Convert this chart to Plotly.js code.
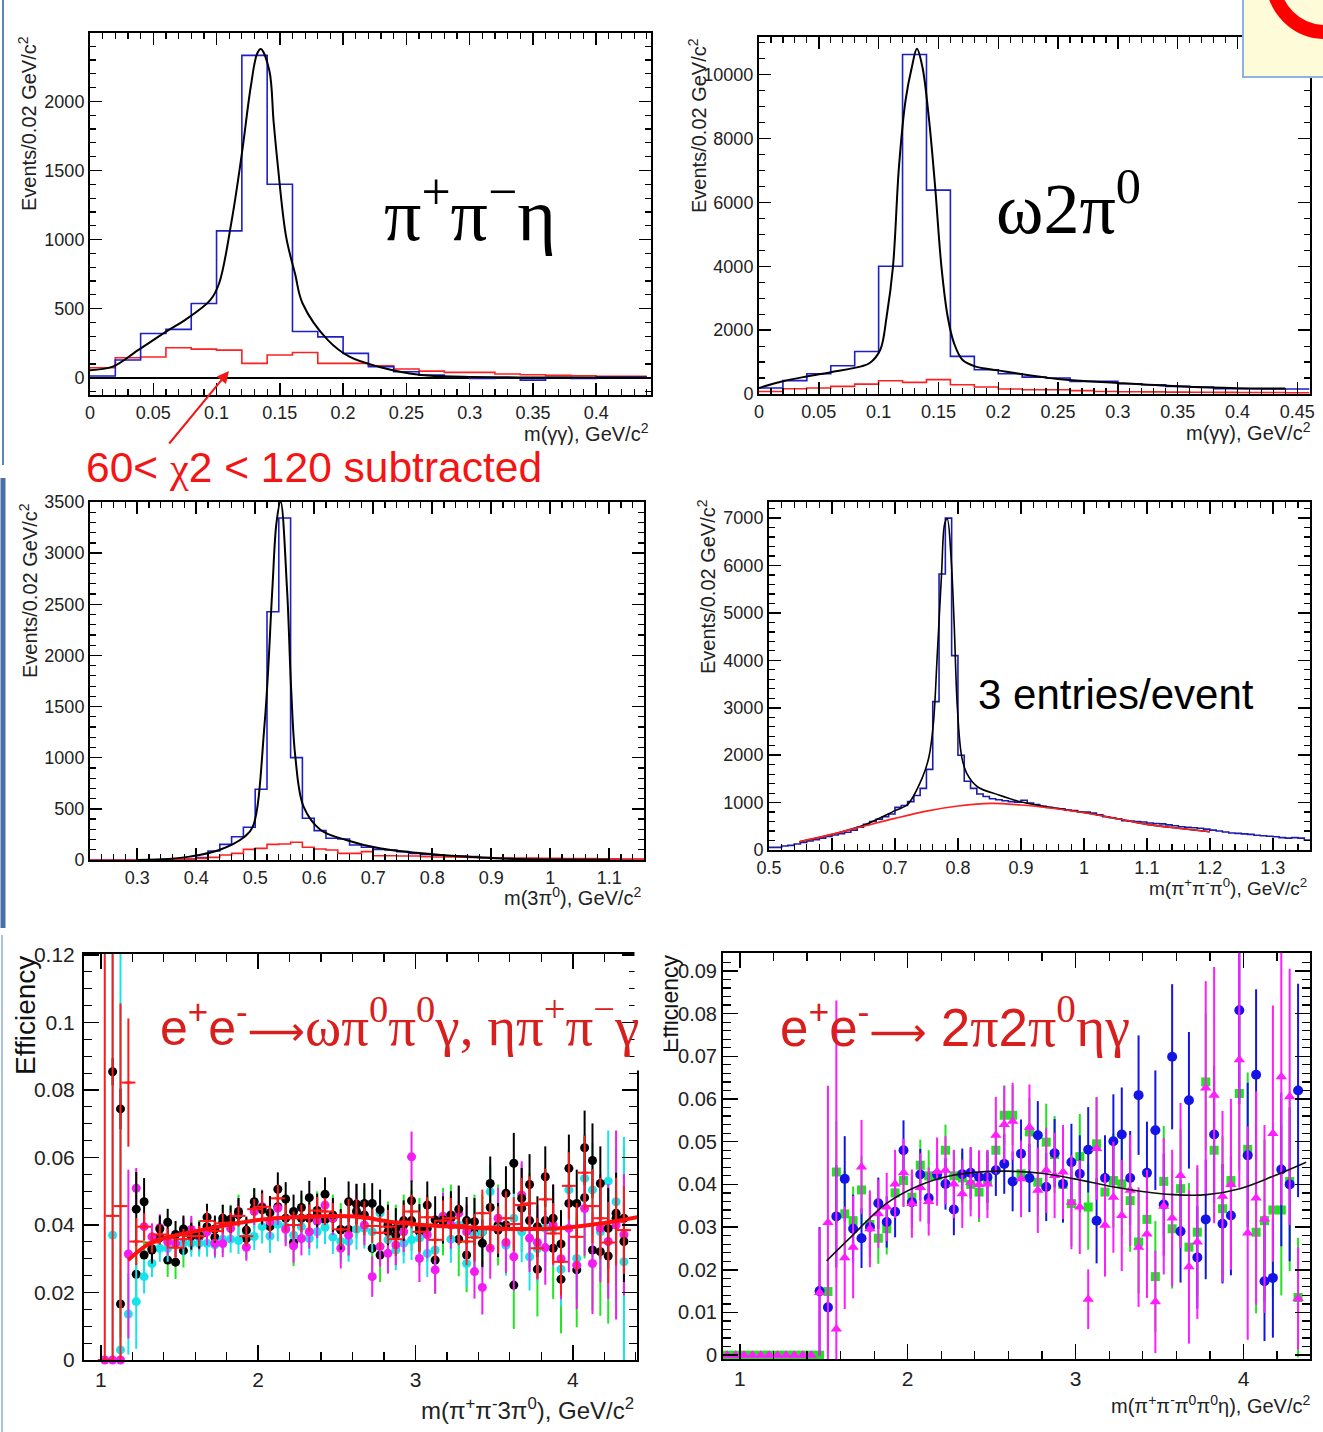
<!DOCTYPE html>
<html><head><meta charset="utf-8">
<script src="https://cdn.plot.ly/plotly-3.0.1.min.js"></script>
<style>html,body{margin:0;padding:0;background:#fff}</style>
</head><body><div id="chart" style="width:1323px;height:1432px"></div>
<script>
const W = 1323, H = 1432;
const FONT = 'Liberation Sans, Arial, sans-serif';
const SERIF = 'Liberation Serif, Times New Roman, serif';

// ---------- Panel 1: m(gamma gamma), pi+pi-eta ----------
const p1_lo = 0, p1_w = 0.02;
const p1_blue = [12,128,320,350,537,1063,2333,1400,335,296,176,80,43,19,7,-5,0,-17,2,-5,5,5];
const p1_red  = [72,145,150,217,207,200,104,164,183,104,104,87,63,48,39,39,27,22,17,14,10,10];
const p1_fit_x = [0,0.018,0.038,0.062,0.075,0.095,0.102,0.112,0.12,0.127,0.132,0.135,0.1417,0.145,0.148,0.155,0.162,0.168,0.188,0.205,0.228,0.262,0.295,0.33,0.37,0.44];
const p1_fit_y = [55,80,200,345,417,561,682,1140,1622,2104,2345,2380,2224,1863,1573,1019,754,537,272,152,80,19,7,3,1,0];

// ---------- Panel 2: m(gamma gamma), omega 2pi0 ----------
const p2_lo = 0, p2_w = 0.02;
const p2_blue = [190,420,635,885,1330,4000,10630,6385,1177,760,635,530,500,395,395,320,290,240,220,165,165,155,155];
const p2_red  = [80,165,190,240,310,415,365,450,290,220,155,135,135,105,80,70,65,60,55,50,45,45,40];
const p2_fit_x = [0,0.02,0.04,0.06,0.0856,0.0926,0.1014,0.1067,0.112,0.117,0.1225,0.1278,0.132,0.1366,0.1419,0.147,0.1525,0.1577,0.163,0.17,0.1806,0.2,0.25,0.3,0.35,0.4,0.44];
const p2_fit_y = [190,400,550,680,865,969,1385,2427,3990,7115,9198,10240,10812,10240,8677,6594,3990,2427,1594,1073,865,740,470,345,240,180,175];

// ---------- Panel 3: m(3pi0) ----------
const p3_lo = 0.22, p3_w = 0.02;
const p3_blue = [0,0,0,0,2,3,5,7,10,23,88,153,228,320,691,2427,3343,1001,408,287,212,205,147,124,104,98,82,65,55,46,42,39,33,23,20,16,12,10,9,8,7,6,6,5,5,4,4];
const p3_red  = [0,0,0,0,2,3,4,6,8,16,26,49,65,104,114,153,157,173,124,108,98,65,65,82,42,42,39,39,33,30,29,28,26,24,22,20,19,18,17,16,15,14,13,12,11,10,9];
const p3_fit_x = [0.3,0.354,0.389,0.439,0.482,0.496,0.516,0.529,0.536,0.543,0.554,0.561,0.568,0.582,0.611,0.654,0.711,0.782,0.854,0.925,1.0,1.1];
const p3_fit_y = [0,10,33,98,228,326,1337,2642,3294,3506,2642,1663,1011,522,294,196,114,65,33,13,5,2];

// ---------- Panel 4: m(pi+pi-pi0) ----------
const p4_lo = 0.5, p4_w = 0.01;
const p4_blue = [56,56,84,98,126,160,190,215,250,285,
 316,345,375,420,480,540,600,650,700,760,
 900,940,1020,1150,1300,1700,3130,5820,7000,4100,
 2000,1450,1300,1180,1130,1080,1060,1040,1020,1010,
 1050,990,960,920,900,880,870,840,830,800,
 800,780,740,700,680,660,620,610,600,590,
 570,560,550,530,510,490,480,470,460,440,
 420,400,380,360,350,340,330,310,300,290,
 280,260,250,260,250,210];
const p4_bkg_x = [0.548,0.6,0.65,0.7,0.75,0.8,0.852,0.9,0.95,1.0,1.05,1.1,1.15,1.2];
const p4_bkg_y = [175,330,500,667,820,927,983,948,880,787,670,540,460,386];
const p4_fit_x = [0.548,0.6,0.65,0.7,0.72,0.744,0.754,0.761,0.767,0.774,0.779,0.783,0.789,0.794,0.799,0.806,0.814,0.831,0.865,0.899,0.95,1.0,1.05,1.1,1.15,1.2];
const p4_fit_y = [175,330,520,830,960,1545,1966,2668,4073,5829,6882,6987,6180,4775,3020,1966,1615,1334,1159,1018,890,790,670,540,460,386];

// ---------- Panel 5: efficiency omega pi0 pi0 gamma / eta pi+ pi- gamma ----------
const p5_lo = 1.0, p5_w = 0.05;
const p5_black = [null,0.0854,0.0744,null,0.0447,0.0469,0.0326,0.0388,0.0408,0.0372,
 0.0388,0.0367,0.0370,0.0423,0.0388,0.0420,0.0417,0.0440,0.0385,0.0469,
 0.0451,0.0436,0.0506,0.0477,0.0440,0.0452,0.0481,0.0443,0.0491,0.0430,
 0.0387,0.0469,0.0462,0.0464,0.0464,0.0445,0.0400,0.0390,0.0413,0.0472,
 0.0392,0.0459,0.0415,0.0415,0.0430,0.0447,0.0413,0.0410,0.0346,0.0523,
 0.0385,0.0494,0.0583,0.0479,0.0520,0.0395,0.0543,0.0420,0.0344,0.0568,
 0.0464,0.0629,0.0591,0.0523,0.0390,0.0435,0.0351];
const p5_black_err = [0,0.004,0.006,0,0.011,0.007,0.004,0.004,0.004,0.004,
 0.004,0.004,0.004,0.004,0.004,0.004,0.004,0.004,0.004,0.004,
 0.005,0.005,0.005,0.005,0.005,0.005,0.005,0.005,0.005,0.005,
 0.006,0.006,0.006,0.006,0.006,0.006,0.006,0.006,0.006,0.006,
 0.007,0.007,0.007,0.007,0.007,0.007,0.007,0.007,0.007,0.008,
 0.008,0.008,0.009,0.009,0.009,0.009,0.009,0.010,0.010,0.010,
 0.010,0.011,0.011,0.011,0.012,0.012,0.012];
const p5_green = [null,null,0.0166,null,0.0254,0.0311,0.0330,0.0363,0.0296,0.0290,
 0.0324,0.0370,0.0365,0.0395,0.0363,0.0410,0.0410,0.0430,0.0360,0.0450,
 0.0445,0.0395,0.0454,0.0420,0.0348,0.0420,0.0420,0.0430,0.0415,0.0420,
 0.0385,0.0387,0.0440,0.0430,0.0331,0.0311,0.0380,0.0370,0.0400,0.0413,
 0.0380,0.0390,0.0296,0.0410,0.0420,0.0358,0.0311,0.0380,0.0380,0.0452,
 0.0400,0.0400,0.0222,0.0450,0.0413,0.0269,0.0413,0.0331,0.0239,0.0464,
 0.0267,0.0481,0.0326,0.0321,0.0308,0.0420,0.0420];
const p5_green_err = [0,0,0.010,0,0.008,0.006,0.005,0.005,0.005,0.005,
 0.005,0.005,0.005,0.005,0.005,0.005,0.005,0.006,0.006,0.006,
 0.006,0.006,0.006,0.007,0.007,0.007,0.007,0.007,0.007,0.007,
 0.008,0.008,0.008,0.008,0.008,0.008,0.009,0.009,0.009,0.009,
 0.010,0.010,0.010,0.010,0.010,0.011,0.011,0.011,0.011,0.012,
 0.012,0.012,0.013,0.013,0.014,0.014,0.015,0.015,0.016,0.016,
 0.017,0.018,0.018,0.019,0.020,0.020,0.021];
const p5_cyan = [null,0.0370,0.0030,0.0136,0.0173,0.0247,0.0286,0.0331,0.0331,0.0346,
 0.0346,0.0346,0.0346,0.0346,0.0341,0.0358,0.0358,0.0354,0.0380,0.0366,
 0.0395,0.0367,0.0402,0.0395,0.0370,0.0395,0.0360,0.0380,0.0393,0.0364,
 0.0351,0.0351,0.0387,0.0390,0.0380,0.0435,0.0356,0.0326,0.0346,0.0356,
 0.0361,0.0316,0.0326,0.0427,0.0358,0.0400,0.0286,0.0370,0.0380,0.0499,
 0.0390,0.0340,0.0420,0.0380,0.0306,0.0330,0.0390,0.0390,0.0269,0.0504,
 0.0301,0.0538,0.0504,0.0380,0.0530,0.0469,0.0291];
const p5_cyan_err = [0,0.09,0.12,0.012,0.014,0.005,0.004,0.004,0.004,0.004,
 0.004,0.004,0.004,0.004,0.004,0.004,0.004,0.004,0.004,0.004,
 0.005,0.005,0.005,0.005,0.005,0.005,0.005,0.005,0.005,0.005,
 0.006,0.006,0.006,0.006,0.006,0.006,0.006,0.006,0.006,0.006,
 0.007,0.007,0.007,0.007,0.007,0.007,0.007,0.008,0.008,0.008,
 0.008,0.009,0.009,0.009,0.010,0.010,0.010,0.011,0.011,0.012,
 0.012,0.013,0.014,0.014,0.015,0.016,0.037];
const p5_mag = [0,0,0,0.0314,0.0509,0.0395,0.0365,0.0392,0.0350,0.0345,
 0.0382,0.0387,0.0367,0.0380,0.0346,0.0345,0.0390,0.0435,0.0334,0.0440,
 0.0454,0.0410,0.0450,0.0387,0.0338,0.0360,0.0380,0.0411,0.0459,0.0420,
 0.0331,0.0370,0.0462,0.0400,0.0247,0.0336,0.0316,0.0341,0.0380,0.0602,
 0.0301,0.0371,0.0267,0.0425,0.0400,0.0435,0.0380,0.0262,0.0215,0.0331,
 0.0420,0.0348,0.0306,0.0489,0.0361,0.0348,0.0333,0.0400,0.0300,0.0390,
 0.0281,0.0449,0.0286,0.0390,0.0351,0.0400,0.0371];
const p5_mag_err = [0,0,0,0.025,0.006,0.004,0.004,0.004,0.004,0.004,
 0.004,0.004,0.004,0.004,0.004,0.004,0.004,0.004,0.004,0.004,
 0.005,0.005,0.005,0.005,0.005,0.005,0.005,0.005,0.005,0.005,
 0.006,0.006,0.006,0.006,0.006,0.006,0.006,0.006,0.006,0.0075,
 0.007,0.007,0.007,0.007,0.007,0.008,0.008,0.008,0.008,0.009,
 0.009,0.009,0.010,0.010,0.010,0.011,0.011,0.012,0.012,0.013,
 0.013,0.014,0.015,0.016,0.017,0.028,0.018];
const p5_red = [0,0.0427,0.0456,0.0822,0.0351,0.0395,0.0348,0.0372,0.0360,0.0333,
 0.0358,0.0367,0.0367,0.0412,0.0382,0.0405,0.0407,0.0427,0.0367,0.0447,
 0.0454,0.0417,0.0479,0.0420,0.0400,0.0420,0.0421,0.0443,0.0440,0.0425,
 0.0387,0.0427,0.0427,0.0420,0.0397,0.0377,0.0395,0.0358,0.0410,0.0440,
 0.0380,0.0423,0.0356,0.0413,0.0420,0.0400,0.0351,0.0363,0.0435,0.0395,
 0.0385,0.0420,0.0403,0.0459,0.0464,0.0331,0.0476,0.0375,0.0291,0.0516,
 0.0365,0.0555,0.0456,0.0420,0.0348,0.0410,0.0385];
const p5_red_err = [0.13,0.08,0.06,0.019,0.007,0.004,0.003,0.003,0.003,0.003,
 0.003,0.003,0.003,0.003,0.003,0.003,0.003,0.003,0.003,0.003,
 0.004,0.004,0.004,0.004,0.004,0.004,0.004,0.004,0.004,0.004,
 0.005,0.005,0.005,0.005,0.005,0.005,0.005,0.005,0.005,0.005,
 0.006,0.006,0.006,0.006,0.006,0.006,0.007,0.007,0.007,0.007,
 0.007,0.008,0.008,0.008,0.008,0.009,0.009,0.009,0.010,0.010,
 0.010,0.011,0.011,0.012,0.012,0.013,0.013];
const p5_fit_x = [1.174,1.322,1.534,1.746,2.0,2.21,2.621,2.833,3.045,3.257,3.469,3.68,3.893,4.105,4.317,4.41];
const p5_fit_y = [0.0296,0.0348,0.0375,0.0395,0.0415,0.0423,0.0425,0.0410,0.0400,0.0395,0.0390,0.0388,0.0390,0.0400,0.0415,0.0423];

// ---------- Panel 6: efficiency 2pi 2pi0 eta gamma ----------
const p6_lo = 0.9, p6_w = 0.05;
const p6_blue = [null,null,null,null,null,null,null,null,null,null,
 null,0.0150,0.0112,0.0325,0.0413,0.0296,0.0274,0.0300,0.0356,0.0312,
 0.0336,0.0480,0.0358,0.0423,0.0368,0.0423,0.0401,0.0341,0.0424,0.0427,
 0.0417,0.0417,0.0433,0.0448,0.0407,0.0472,0.0415,0.0515,0.0394,0.0473,
 0.0401,0.0452,0.0425,0.0481,0.0315,0.0415,0.0501,0.0517,0.0415,0.0609,
 0.0427,0.0527,0.0353,0.0699,0.0290,0.0597,0.0229,0.0318,0.0517,0.0308,
 0.0327,0.0808,0.0468,0.0657,0.0173,0.0181,0.0435,0.0400,0.0620];
const p6_blue_err = [0,0,0,0,0,0,0,0,0,0,
 0,0.015,0.010,0.012,0.010,0.008,0.007,0.007,0.006,0.006,
 0.006,0.007,0.006,0.006,0.006,0.005,0.006,0.006,0.006,0.006,
 0.006,0.006,0.006,0.007,0.007,0.008,0.008,0.008,0.008,0.008,
 0.009,0.009,0.009,0.010,0.010,0.010,0.011,0.011,0.011,0.014,
 0.012,0.014,0.012,0.017,0.012,0.016,0.012,0.014,0.016,0.014,
 0.014,0.022,0.017,0.020,0.014,0.014,0.018,0.018,0.025];
const p6_green = [0,0,0,0,0,0,0,0,0,0,
 0,0,0.0149,0.0429,0.0331,0.0315,0.0387,0.0306,0.0274,0.0296,
 0.0380,0.0409,0.0370,0.0445,0.0420,0.0420,0.0480,0.0420,0.0415,0.0400,
 0.0382,0.0410,0.0480,0.0562,0.0562,0.0425,0.0523,0.0405,0.0499,0.0470,
 0.0400,0.0355,0.0465,0.0347,0.0495,0.0382,0.0409,0.0401,0.0362,0.0265,
 0.0318,0.0184,0.0407,0.0296,0.0390,0.0253,0.0288,0.0640,0.0480,0.0343,
 0.0409,0.0613,0.0482,0.0288,0.0315,0.0340,0.0340,0.0407,0.0135];
const p6_green_err = [0,0,0,0,0,0,0,0,0,0,
 0,0,0.005,0.012,0.010,0.008,0.008,0.007,0.006,0.006,
 0.006,0.006,0.006,0.006,0.006,0.006,0.006,0.006,0.006,0.006,
 0.007,0.007,0.007,0.007,0.007,0.008,0.008,0.008,0.009,0.009,
 0.009,0.010,0.010,0.010,0.011,0.011,0.011,0.012,0.012,0.012,
 0.013,0.013,0.013,0.014,0.014,0.015,0.015,0.016,0.016,0.017,
 0.017,0.018,0.018,0.019,0.019,0.020,0.020,0.021,0.014];
const p6_mag = [0,0,0,0,0,0,0,0,0,0,
 0,0.0147,0.0311,0.0061,0.0228,0.0253,0.0441,0.0296,0.0331,0.0347,
 0.0401,0.0427,0.0355,0.0393,0.0360,0.0430,0.0433,0.0401,0.0378,0.0405,
 0.0400,0.0401,0.0515,0.0540,0.0548,0.0413,0.0534,0.0386,0.0433,0.0421,
 0.0429,0.0358,0.0347,0.0131,0.0484,0.0304,0.0370,0.0327,0.0386,0.0253,
 0.0284,0.0125,0.0349,0.0321,0.0421,0.0207,0.0265,0.0626,0.0609,0.0372,
 0.0400,0.0692,0.0286,0.0368,0.0319,0.0519,0.0652,0.0605,0.0133];
const p6_mag_err = [0,0,0,0,0,0,0,0,0,0,
 0,0.015,0.032,0.077,0.012,0.012,0.011,0.009,0.008,0.008,
 0.008,0.008,0.008,0.008,0.008,0.008,0.008,0.008,0.008,0.008,
 0.008,0.008,0.009,0.009,0.009,0.009,0.010,0.010,0.010,0.010,
 0.011,0.011,0.011,0.007,0.012,0.012,0.013,0.013,0.013,0.014,
 0.015,0.012,0.016,0.016,0.017,0.018,0.018,0.025,0.030,0.020,
 0.020,0.030,0.025,0.025,0.022,0.030,0.030,0.030,0.012];
const p6_fit_x = [1.517,1.67,1.868,2.065,2.262,2.46,2.598,2.795,2.992,3.189,3.386,3.584,3.781,3.978,4.176,4.373];
const p6_fit_y = [0.0221,0.0280,0.0354,0.0397,0.0421,0.0430,0.0431,0.0426,0.0413,0.0397,0.0384,0.0376,0.0376,0.0390,0.0419,0.0452];

// ---------- helpers ----------
function stepXY(lo, w, vals) {
  const x = [], y = [];
  vals.forEach((v, i) => { x.push(lo + i * w); y.push(v); });
  x.push(lo + vals.length * w); y.push(vals[vals.length - 1]);
  return {x, y};
}
function centers(lo, w, n) { const x = []; for (let k = 0; k < n; k++) x.push(lo + w * (k + 0.5)); return x; }
function hist(lo, w, vals, color, xa, ya, width) {
  const s = stepXY(lo, w, vals);
  return {type:'scatter', mode:'lines', x:s.x, y:s.y, xaxis:xa, yaxis:ya,
          line:{shape:'hv', color:color, width:width||1.6}, hoverinfo:'skip'};
}
function curve(x, y, color, xa, ya, width) {
  return {type:'scatter', mode:'lines', x:x, y:y, xaxis:xa, yaxis:ya,
          line:{shape:'spline', smoothing:1, color:color, width:width||2}, hoverinfo:'skip'};
}
function pts(x, y, err, mcolor, ecolor, symbol, size, xa, ya, extra) {
  return Object.assign({type:'scatter', mode:'markers', x:x, y:y, xaxis:xa, yaxis:ya,
    marker:{color:mcolor, size:size, symbol:symbol, line:{width:0}},
    error_y:{type:'data', array:err, visible:true, color:ecolor, thickness:2, width:0},
    hoverinfo:'skip'}, extra||{});
}

const X = px => px / W;
const Y = py => 1 - py / H;

function mkAx(dom, rng, dt, mdt, big, extra) {
  return Object.assign({
    domain: dom, range: rng, autorange: false, tickmode: 'linear', dtick: dt, tick0: 0,
    ticks: 'inside', ticklen: big ? 15 : 12, tickwidth: 1.5, tickcolor: '#000',
    showline: true, linecolor: '#000', linewidth: 2, mirror: 'ticks',
    showgrid: false, zeroline: false,
    minor: {dtick: mdt, tick0: 0, ticks: 'inside', ticklen: big ? 8 : 6, tickwidth: 1.2, tickcolor: '#000', showgrid: false},
    tickfont: {family: FONT, size: big ? 21 : 18, color: '#222'},
    ticklabelstandoff: 0,
    fixedrange: true
  }, extra || {});
}

const BLUE = '#1f1fc8', RED = '#ff2020', NAVY = '#1c1ca8';
const traces = [];
// panel 1
traces.push(hist(p1_lo, p1_w, p1_red, RED, 'x', 'y'));
traces.push(hist(p1_lo, p1_w, p1_blue, BLUE, 'x', 'y'));
traces.push(curve(p1_fit_x, p1_fit_y, '#000', 'x', 'y', 2));
// panel 2
traces.push(hist(p2_lo, p2_w, p2_red, RED, 'x2', 'y2'));
traces.push(hist(p2_lo, p2_w, p2_blue, BLUE, 'x2', 'y2'));
traces.push(curve(p2_fit_x, p2_fit_y, '#000', 'x2', 'y2', 2));
// panel 3
traces.push(hist(p3_lo, p3_w, p3_blue, BLUE, 'x3', 'y3'));
traces.push(hist(p3_lo, p3_w, p3_red, RED, 'x3', 'y3'));
traces.push(curve(p3_fit_x, p3_fit_y, '#000', 'x3', 'y3', 2));
// panel 4
traces.push(hist(p4_lo, p4_w, p4_blue, NAVY, 'x4', 'y4'));
traces.push(curve(p4_fit_x, p4_fit_y, '#000', 'x4', 'y4', 1.6));
traces.push(curve(p4_bkg_x, p4_bkg_y, RED, 'x4', 'y4', 1.6));
// panel 5
const x5 = centers(p5_lo, p5_w, p5_black.length);
traces.push(pts(x5, p5_green, p5_green_err, '#000', '#22e622', 'circle', 9, 'x5', 'y5'));
traces.push(pts(x5, p5_cyan, p5_cyan_err, '#19e3ea', '#19e3ea', 'circle', 9, 'x5', 'y5'));
traces.push(pts(x5, p5_mag, p5_mag_err, '#f21cf2', '#f21cf2', 'circle', 9, 'x5', 'y5', {cliponaxis:false}));
traces.push(pts(x5, p5_black, p5_black_err, '#000', '#000', 'circle', 9, 'x5', 'y5'));
traces.push(Object.assign(pts(x5, p5_red, p5_red_err, '#ff1a1a', '#ff1a1a', 'line-ew', 9, 'x5', 'y5'), {
  marker:{symbol:'line-ew', size:10, color:'#ff1a1a', line:{color:'#ff1a1a', width:2}},
  error_x:{type:'constant', value:0.02, visible:true, color:'#ff1a1a', thickness:2, width:0},
  error_y:{type:'data', array:p5_red_err, visible:true, color:'#ff1a1a', thickness:2, width:0}
}));
traces.push(curve(p5_fit_x, p5_fit_y, '#ff1010', 'x5', 'y5', 4));
// panel 6
const x6 = centers(p6_lo, p6_w, p6_green.length);
traces.push(pts(x6, p6_green, p6_green_err, '#22e022', '#22e022', 'square', 9, 'x6', 'y6'));
traces.push(pts(x6, p6_blue, p6_blue_err, '#1414e6', '#1414e6', 'circle', 10, 'x6', 'y6'));
traces.push(pts(x6, p6_mag, p6_mag_err, '#ff1cff', '#ff1cff', 'triangle-up', 10, 'x6', 'y6'));
traces.push(curve(p6_fit_x, p6_fit_y, '#111', 'x6', 'y6', 1.6));

const layout = {
  width: W, height: H, margin: {l:0, r:0, t:0, b:0, pad:0},
  paper_bgcolor: '#fff', plot_bgcolor: 'rgba(0,0,0,0)', showlegend: false,
  font: {family: FONT, color: '#222'},
  xaxis:  mkAx([X(90), X(651)], [0, 0.4433], 0.05, 0.01, false, {anchor:'y'}),
  yaxis:  mkAx([Y(395), Y(33)], [-125, 2495], 500, 100, false, {anchor:'x', tickformat:'d', zeroline:true, zerolinecolor:'#000', zerolinewidth:1.6}),
  xaxis2: mkAx([X(759), X(1310)], [0, 0.4606], 0.05, 0.01, false, {anchor:'y2'}),
  yaxis2: mkAx([Y(394), Y(37)], [0, 11180], 2000, 500, false, {anchor:'x2', tickformat:'d'}),
  xaxis3: mkAx([X(90), X(644)], [0.22, 1.159], 0.1, 0.02, false, {anchor:'y3'}),
  yaxis3: mkAx([Y(860), Y(502)], [0, 3500], 500, 100, false, {anchor:'x3', tickformat:'d'}),
  xaxis4: mkAx([X(769), X(1310)], [0.5, 1.359], 0.1, 0.02, false, {anchor:'y4'}),
  yaxis4: mkAx([Y(850), Y(502)], [0, 7340], 1000, 200, false, {anchor:'x4', tickformat:'d'}),
  xaxis5: mkAx([X(84), X(637)], [0.893, 4.408], 1, 0.2, true, {anchor:'y5'}),
  yaxis5: mkAx([Y(1360), Y(954)], [0, 0.1203], 0.02, 0.005, true, {anchor:'x5', ticklabelstandoff:3}),
  xaxis6: mkAx([X(723), X(1310)], [0.9, 4.396], 1, 0.2, true, {anchor:'y6'}),
  yaxis6: mkAx([Y(1359), Y(953)], [-0.0009, 0.0942], 0.01, 0.002, true, {anchor:'x6', tickfont:{family:FONT, size:20, color:'#222'}}),
  annotations: [],
  shapes: []
};

function A(text, xpx, ypx, o) {
  layout.annotations.push(Object.assign({text:text, x:X(xpx), y:Y(ypx), xref:'paper', yref:'paper',
    showarrow:false, xanchor:'center', yanchor:'middle', font:{family:FONT, size:20, color:'#222'}}, o||{}));
}
const ytitle = 'Events/0.02 GeV/c<sup>2</sup>';
A(ytitle, 28, 124, {textangle:-90});
A(ytitle, 697, 126, {textangle:-90});
A(ytitle, 28, 591, {textangle:-90});
A(ytitle, 706, 587, {textangle:-90});
A('m(γγ), GeV/c<sup>2</sup>', 651, 432, {xanchor:'right'});
A('m(γγ), GeV/c<sup>2</sup>', 1313, 431, {xanchor:'right'});
A('m(3π<sup>0</sup>), GeV/c<sup>2</sup>', 643, 896, {xanchor:'right'});
A('m(π<sup>+</sup>π<sup>-</sup>π<sup>0</sup>), GeV/c<sup>2</sup>', 1309, 887, {xanchor:'right', font:{family:FONT, size:19, color:'#222'}});
A('m(π<sup>+</sup>π<sup>-</sup>3π<sup>0</sup>), GeV/c<sup>2</sup>', 636, 1409, {xanchor:'right', font:{family:FONT, size:24, color:'#222'}});
A('m(π<sup>+</sup>π<sup>-</sup>π<sup>0</sup>π<sup>0</sup>η), GeV/c<sup>2</sup>', 1313, 1404, {xanchor:'right', font:{family:FONT, size:20, color:'#222'}});
A('Efficiency', 25, 1016, {textangle:-90, font:{family:FONT, size:28, color:'#111'}});
A('Efficiency', 670, 1004, {textangle:-90, font:{family:FONT, size:23, color:'#111'}});
// white cover: in the original the left edge of this label is cut off
A(' ', 649, 1004, {width:26, height:130, bgcolor:'#fff', font:{family:FONT, size:10, color:'#fff'}});
A('π<sup>+</sup>π<sup>−</sup>η', 470, 210, {font:{family:SERIF, size:74, color:'#000'}});
A('ω2π<sup>0</sup>', 1068, 204, {font:{family:SERIF, size:72, color:'#000'}});
A('3 entries/event', 1116, 694, {font:{family:FONT, size:42, color:'#000'}});
A('60< <span style="font-family:Liberation Serif">χ</span>2 < 120 subtracted', 84, 467,
  {xanchor:'left', font:{family:FONT, size:42.5, color:'#f51414'}});
A('<span style="font-family:Liberation Sans;font-size:50px">e<sup>+</sup>e<sup>-</sup></span><span style="font-family:DejaVu Sans;font-size:40px">⟶</span>ωπ<sup>0</sup>π<sup>0</sup>γ, ηπ<sup>+</sup>π<sup>−</sup>γ',
  158, 1022, {xanchor:'left', font:{family:SERIF, size:55, color:'#d91e1e'}});
A('<span style="font-family:Liberation Sans;font-size:51px">e<sup>+</sup>e<sup>-</sup></span><span style="font-family:DejaVu Sans;font-size:40px">⟶</span> <span style="font-family:Liberation Sans;font-size:53px">2</span>π<span style="font-family:Liberation Sans;font-size:53px">2</span>π<sup>0</sup>ηγ',
  778, 1022, {xanchor:'left', font:{family:SERIF, size:56, color:'#d91e1e'}});
// arrow
layout.annotations.push({x:X(229), y:Y(371), xref:'paper', yref:'paper', text:'', showarrow:true,
  ax:-61, ay:74, arrowhead:2, arrowsize:1.2, arrowwidth:2, arrowcolor:'#f51414', standoff:0});

// slide decorations
layout.shapes.push({type:'line', xref:'paper', yref:'paper', x0:X(3), x1:X(3), y0:Y(0), y1:Y(465), line:{color:'#5f84ba', width:2}, layer:'above'});
layout.shapes.push({type:'line', xref:'paper', yref:'paper', x0:X(3), x1:X(3), y0:Y(478), y1:Y(928), line:{color:'#4a6ea6', width:5}, layer:'above'});
layout.shapes.push({type:'line', xref:'paper', yref:'paper', x0:X(2), x1:X(2), y0:Y(935), y1:Y(1432), line:{color:'#a9c1e2', width:2}, layer:'above'});
layout.shapes.push({type:'rect', xref:'paper', yref:'paper', x0:X(1243), x1:X(1340), y0:Y(77), y1:Y(-5),
  fillcolor:'#fefcd8', line:{color:'#8db3e0', width:2}, layer:'above'});
layout.shapes.push({type:'circle', xref:'paper', yref:'paper', x0:X(1273), x1:X(1377), y0:Y(32), y1:Y(-72),
  line:{color:'#ff0000', width:14}, layer:'above'});

Plotly.newPlot('chart', traces, layout, {staticPlot:true, displayModeBar:false});
</script></body></html>
